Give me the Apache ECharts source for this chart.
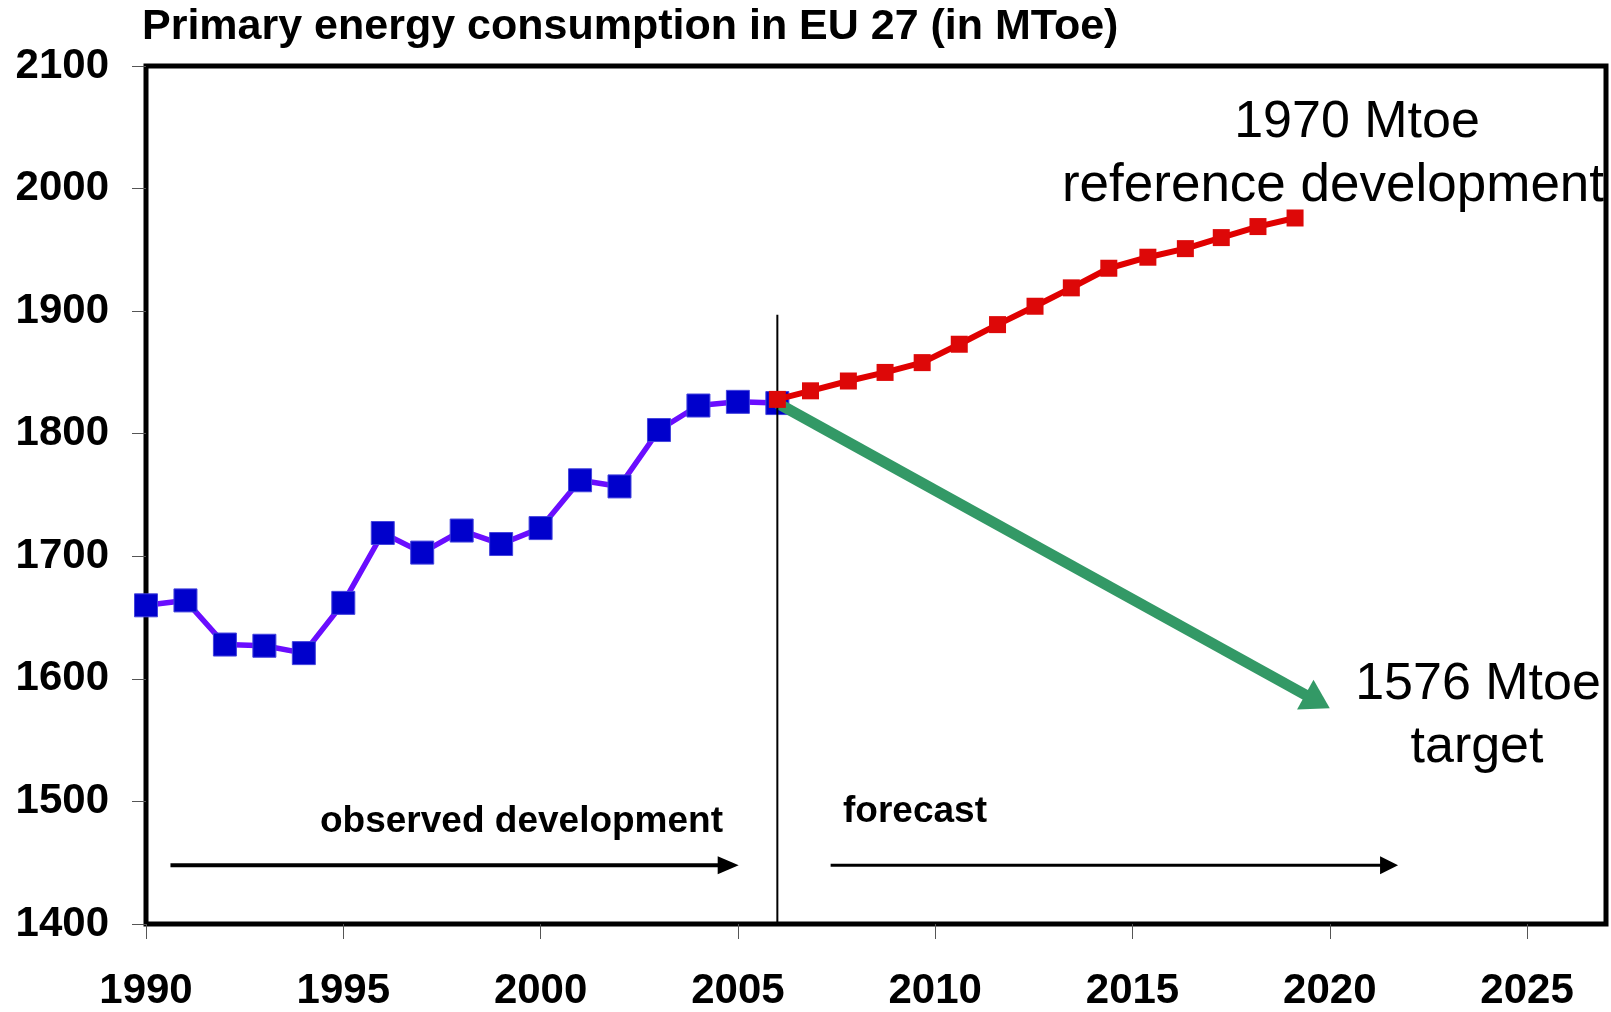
<!DOCTYPE html>
<html>
<head>
<meta charset="utf-8">
<script src="https://cdn.jsdelivr.net/npm/echarts@6/dist/echarts.min.js"></script>
<style>
html,body{margin:0;padding:0;background:#fff;}
#chart{width:1611px;height:1012px;}
</style>
</head>
<body>
<div id="chart"></div>
<script>
// ---- data ----
const observedYears = [1990,1991,1992,1993,1994,1995,1996,1997,1998,1999,2000,2001,2002,2003,2004,2005,2006];
const observedValues = [1660,1664,1628,1627,1621,1662,1719,1703,1721,1710,1723,1762,1757,1803,1823,1826,1825];
const forecastYears = [2006,2006.84,2007.80,2008.73,2009.67,2010.61,2011.58,2012.53,2013.45,2014.40,2015.39,2016.34,2017.25,2018.18,2019.12];
const forecastValues = [1828,1835,1843,1850,1858,1873,1889,1904,1919,1935,1944,1951,1960,1969,1976];
const targetArrow = [2006, 1825, 2020, 1576];
const observedArrow = [1990.62, 1448, 2005.02, 1448];
const forecastArrow = [2007.35, 1448, 2021.73, 1448];
const dividerLine = [[2006, 1400], [2006, 1897]];
const xTicks = [1990,1995,2000,2005,2010,2015,2020,2025];
const yTicks = [1400,1500,1600,1700,1800,1900,2000,2100];
const titleText = 'Primary energy consumption in EU 27 (in MToe)';
const refLabel = ['1970 Mtoe', 'reference development'];
const targetLabel = ['1576 Mtoe', 'target'];
const observedLabel = 'observed development';
const forecastLabel = 'forecast';

// ---- helpers ----
function arrowRenderer(shaftW, headLen, headW, color) {
  return function (params, api) {
    const p0 = api.coord([api.value(0), api.value(1)]);
    const p1 = api.coord([api.value(2), api.value(3)]);
    const dx = p1[0] - p0[0], dy = p1[1] - p0[1];
    const L = Math.hypot(dx, dy);
    const ux = dx / L, uy = dy / L, nx = -uy, ny = ux;
    const bx = p1[0] - ux * headLen, by = p1[1] - uy * headLen;
    return {
      type: 'group',
      children: [
        { type: 'line', shape: { x1: p0[0], y1: p0[1], x2: bx + ux * 2, y2: by + uy * 2 },
          style: { stroke: color, lineWidth: shaftW } },
        { type: 'polygon', shape: { points: [[p1[0], p1[1]], [bx + nx * headW / 2, by + ny * headW / 2], [bx - nx * headW / 2, by - ny * headW / 2]] },
          style: { fill: color } }
      ]
    };
  };
}
function zipPairs(xs, ys) { return xs.map((x, i) => [x, ys[i]]); }

const FONT = 'Liberation Sans, Arial, sans-serif';
function txt(text, x, y, size, weight, align) {
  return { type: 'text', x: x, y: y, z: 100,
    style: { text: text, font: weight + ' ' + size + 'px ' + FONT, fill: '#000', align: align, verticalAlign: 'middle' } };
}

const chart = echarts.init(document.getElementById('chart'));
chart.setOption({
  animation: false,
  backgroundColor: '#fff',
  grid: { left: 146, right: 5, top: 66, bottom: 87, show: true, borderColor: '#000', borderWidth: 5, backgroundColor: 'transparent' },
  xAxis: {
    type: 'value', min: 1990, max: 2027, interval: 5,
    splitLine: { show: false },
    axisLine: { show: false },
    axisTick: { show: true, length: 15, customValues: xTicks, lineStyle: { color: '#555', width: 1 } },
    axisLabel: { customValues: xTicks, margin: 46, formatter: v => String(v),
      fontFamily: FONT, fontWeight: 'bold', fontSize: 42, color: '#000' }
  },
  yAxis: {
    type: 'value', min: 1400, max: 2100, interval: 100,
    splitLine: { show: false },
    axisLine: { show: false },
    axisTick: { show: true, length: 14, customValues: yTicks, lineStyle: { color: '#555', width: 1 } },
    axisLabel: { customValues: yTicks, margin: 37, padding: [5, 0, 0, 0], formatter: v => String(v),
      fontFamily: FONT, fontWeight: 'bold', fontSize: 42, color: '#000' }
  },
  graphic: [
    txt(titleText, 142, 27, 43, 'bold', 'left'),
    txt(refLabel[0], 1357, 123, 52, 'normal', 'center'),
    txt(refLabel[1], 1333, 186, 53, 'normal', 'center'),
    txt(targetLabel[0], 1478, 685, 52, 'normal', 'center'),
    txt(targetLabel[1], 1477, 748, 52, 'normal', 'center'),
    txt(observedLabel, 320, 822, 37, 'bold', 'left'),
    txt(forecastLabel, 843, 812, 37, 'bold', 'left')
  ],
  series: [
    {
      type: 'line', name: 'observed', z: 2,
      data: zipPairs(observedYears, observedValues),
      symbol: 'rect', symbolSize: 23,
      lineStyle: { color: '#6A0DFF', width: 5.5 },
      itemStyle: { color: '#0000CC', borderColor: '#4444DD', borderWidth: 1 }
    },
    {
      type: 'custom', name: 'targetArrow', z: 3,
      renderItem: arrowRenderer(11, 28, 34, '#339966'),
      encode: { x: [0, 2], y: [1, 3] },
      data: [targetArrow]
    },
    {
      type: 'line', name: 'divider', z: 3,
      data: dividerLine, symbol: 'none',
      lineStyle: { color: '#000', width: 2 }
    },
    {
      type: 'line', name: 'forecast', z: 4,
      data: zipPairs(forecastYears, forecastValues),
      symbol: 'rect', symbolSize: 17,
      lineStyle: { color: '#E00000', width: 6 },
      itemStyle: { color: '#DD0808' }
    },
    {
      type: 'custom', name: 'observedArrow', z: 3,
      renderItem: arrowRenderer(4, 21, 18, '#000'),
      encode: { x: [0, 2], y: [1, 3] },
      data: [observedArrow]
    },
    {
      type: 'custom', name: 'forecastArrow', z: 3,
      renderItem: arrowRenderer(3, 18, 18, '#000'),
      encode: { x: [0, 2], y: [1, 3] },
      data: [forecastArrow]
    }
  ]
});
</script>
</body>
</html>
